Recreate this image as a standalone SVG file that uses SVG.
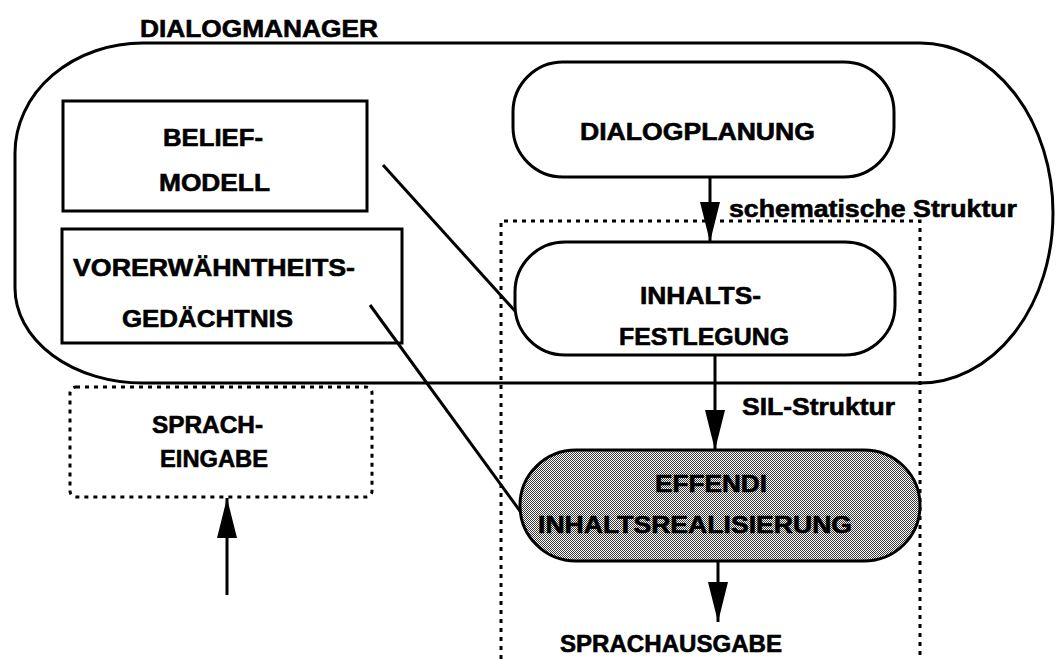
<svg xmlns="http://www.w3.org/2000/svg" width="1056" height="659" viewBox="0 0 1056 659">
  <defs>
    <style>
      .t { font-family: "Liberation Sans", Arial, sans-serif; font-weight: bold; font-size: 24px; fill: #000; stroke: #000; stroke-width: 0.6; }
      .box { fill: #fff; stroke: #000; stroke-width: 3; }
      .ln { fill: none; stroke: #000; stroke-width: 3; }
      .dot { fill: none; stroke: #000; stroke-width: 3; stroke-dasharray: 4 5; }
    </style>
    <pattern id="dither" width="2" height="2" patternUnits="userSpaceOnUse">
      <rect width="2" height="2" fill="#fff"/>
      <rect width="1" height="1" fill="#3a3a3a"/>
      <rect x="1" y="1" width="1" height="1" fill="#3a3a3a"/>
    </pattern>
    <marker id="ah" viewBox="0 0 40 20" markerWidth="40" markerHeight="20" refX="40" refY="10" markerUnits="userSpaceOnUse" orient="auto">
      <path d="M0,0 L40,10 L0,20 Z" fill="#000"/>
    </marker>
  </defs>
  <rect width="1056" height="659" fill="#fff"/>

  <g id="dialogmanager">
    <path class="ln" d="M143 43 H920 A133 170 0 0 1 920 383 H143 A128 95 0 0 1 15 288 V153 A128 110 0 0 1 143 43 Z"/>
    <text class="t" x="140" y="37" font-size="23" textLength="238" lengthAdjust="spacingAndGlyphs">DIALOGMANAGER</text>
  </g>

  <g id="sil-region">
    <path class="dot" d="M501 659 V221 H920 V659"/>
  </g>

  <g id="belief-modell">
    <rect class="box" x="63" y="101" width="304" height="110"/>
    <text class="t" x="163" y="146" textLength="100" lengthAdjust="spacingAndGlyphs">BELIEF-</text>
    <text class="t" x="159" y="191" textLength="111" lengthAdjust="spacingAndGlyphs">MODELL</text>
  </g>

  <g id="vorerwaehntheitsgedaechtnis">
    <rect class="box" x="62" y="229" width="340" height="114"/>
    <text class="t" x="73" y="276" textLength="282" lengthAdjust="spacingAndGlyphs">VORERWÄHNTHEITS-</text>
    <text class="t" x="122" y="327" textLength="171" lengthAdjust="spacingAndGlyphs">GEDÄCHTNIS</text>
  </g>

  <g id="dialogplanung">
    <rect class="box" x="513" y="62" width="381" height="115" rx="50" ry="50"/>
    <text class="t" x="580" y="140" textLength="235" lengthAdjust="spacingAndGlyphs">DIALOGPLANUNG</text>
  </g>

  <g id="inhaltsfestlegung">
    <rect class="box" x="515" y="242" width="380" height="113" rx="50" ry="50"/>
    <text class="t" x="640" y="304" textLength="121" lengthAdjust="spacingAndGlyphs">INHALTS-</text>
    <text class="t" x="619" y="345" textLength="170" lengthAdjust="spacingAndGlyphs">FESTLEGUNG</text>
  </g>

  <g id="effendi">
    <rect x="520" y="450" width="400" height="111" rx="56" ry="56" fill="url(#dither)" stroke="#000" stroke-width="3"/>
    <text class="t" x="655" y="492" textLength="112" lengthAdjust="spacingAndGlyphs">EFFENDI</text>
    <text class="t" x="538" y="533" textLength="314" lengthAdjust="spacingAndGlyphs">INHALTSREALISIERUNG</text>
  </g>

  <g id="spracheingabe">
    <rect class="dot" x="70" y="387" width="302" height="110" rx="6" ry="6"/>
    <text class="t" x="152" y="433" textLength="111" lengthAdjust="spacingAndGlyphs">SPRACH-</text>
    <text class="t" x="160" y="467" textLength="108" lengthAdjust="spacingAndGlyphs">EINGABE</text>
  </g>

  <g id="sprachausgabe">
    <text class="t" x="560" y="652" textLength="222" lengthAdjust="spacingAndGlyphs">SPRACHAUSGABE</text>
  </g>

  <g id="connectors">
    <line class="ln" x1="710" y1="177" x2="710" y2="242" marker-end="url(#ah)"/>
    <line class="ln" x1="715" y1="355" x2="715" y2="450" marker-end="url(#ah)"/>
    <line class="ln" x1="718" y1="561" x2="718" y2="622" marker-end="url(#ah)"/>
    <line class="ln" x1="227" y1="595" x2="227" y2="498" marker-end="url(#ah)"/>
    <line class="ln" x1="383" y1="165" x2="515" y2="311"/>
    <line class="ln" x1="370" y1="305" x2="520" y2="511"/>
    <text class="t" x="729" y="217" textLength="288" lengthAdjust="spacingAndGlyphs">schematische Struktur</text>
    <text class="t" x="742" y="415" textLength="153" lengthAdjust="spacingAndGlyphs">SIL-Struktur</text>
  </g>
</svg>
